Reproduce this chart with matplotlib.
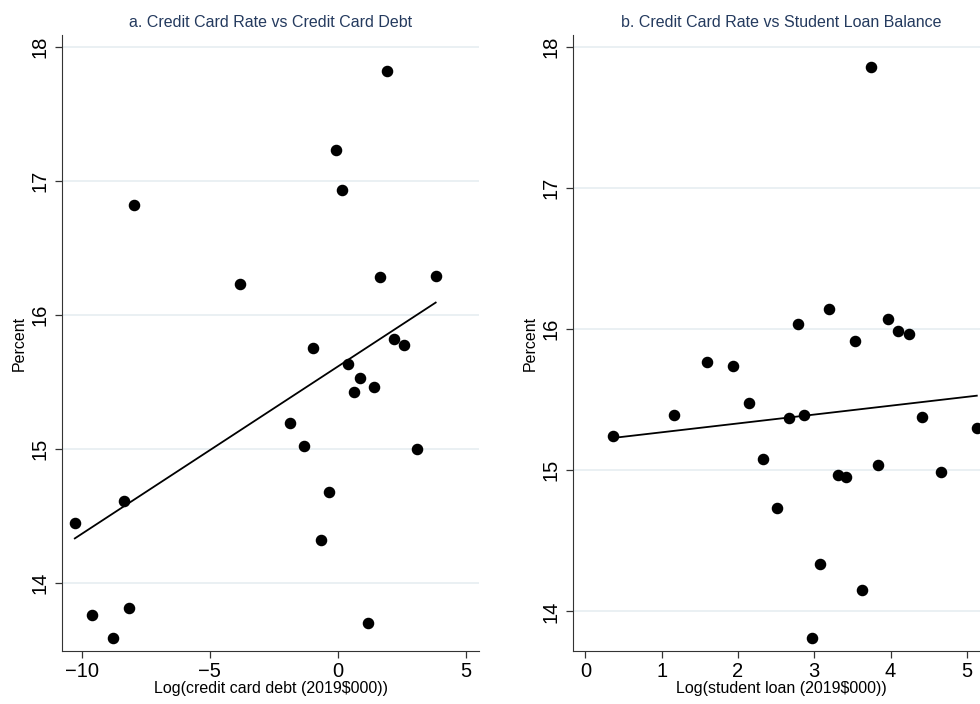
import numpy as np
import matplotlib
matplotlib.use("Agg")
import matplotlib.pyplot as plt

plt.rcParams['font.family'] = ['Liberation Sans', 'DejaVu Sans']

# panel a: log credit card debt vs credit card rate
debt_x = [1.92, -0.09, 0.16, -7.95, -3.83, 1.64, 3.81, 2.18, 2.59, -0.99,
          0.38, 0.86, 0.61, 1.40, -1.87, -1.32, 3.10, -0.37, -0.66, -8.35,
          -10.27, -9.60, -8.17, -8.79, 1.17]
debt_y = [17.82, 17.23, 16.93, 16.82, 16.23, 16.28, 16.29, 15.82, 15.77, 15.75,
          15.63, 15.53, 15.42, 15.46, 15.19, 15.02, 15.00, 14.68, 14.32, 14.61,
          14.445, 13.76, 13.81, 13.59, 13.70]
debt_fit = (0.125, 15.614)   # slope, intercept

# panel b: log student loan vs credit card rate
loan_x = [3.74, 2.78, 3.19, 3.96, 4.10, 4.24, 3.53, 1.60, 1.93, 2.15,
          1.16, 2.67, 2.87, 4.41, 5.13, 0.36, 2.33, 3.84, 4.66, 3.31,
          3.42, 2.51, 3.07, 3.63, 2.97]
loan_y = [17.86, 16.04, 16.14, 16.07, 15.99, 15.965, 15.915, 15.77, 15.74, 15.476,
          15.39, 15.37, 15.39, 15.38, 15.30, 15.24, 15.08, 15.04, 14.99, 14.966,
          14.95, 14.73, 14.34, 14.155, 13.81]
loan_fit = (0.0628, 15.207)

titles = ["a. Credit Card Rate vs Credit Card Debt",
          "b. Credit Card Rate vs Student Loan Balance"]
xlabels = ["Log(credit card debt (2019$000))", "Log(student loan (2019$000))"]

W, H = 980, 704
fig = plt.figure(figsize=(9.8, 7.04), dpi=100)

def box(l, r, t, b):
    return [l / W, 1 - b / H, (r - l) / W, (b - t) / H]

ax1 = fig.add_axes(box(62, 479, 35, 651))
ax2 = fig.add_axes(box(573, 989, 35, 651))

panels = [
    (ax1, debt_x, debt_y, debt_fit, (-10.77, 5.5), (13.49, 18.087), [-10, -5, 0, 5]),
    (ax2, loan_x, loan_y, loan_fit, (-0.163, 5.29), (13.72, 18.085), [0, 1, 2, 3, 4, 5]),
]

for i, (ax, xs, ys, fit, xl, yl, xt) in enumerate(panels):
    ax.set_axisbelow(True)
    ax.grid(axis='y', color='#e6eef1', linewidth=1.2)
    ax.plot(xs, ys, 'o', color='black', markersize=7.3, zorder=3)
    lx = np.array([min(xs), max(xs)])
    ax.plot(lx, fit[0] * lx + fit[1], color='black', linewidth=1.3, zorder=2)
    ax.set_xlim(*xl)
    ax.set_ylim(*yl)
    ax.set_xticks(xt)
    ax.set_xticklabels([str(v).replace('-', '\u2212') for v in xt])
    ax.set_yticks([14, 15, 16, 17, 18])
    ax.tick_params(axis='y', labelrotation=90, labelsize=14.5, length=5, width=0.9, color='#333333', pad=4)
    ax.tick_params(axis='x', labelsize=14.5, length=5, width=0.9, color='#333333', pad=3)
    for lab in ax.get_yticklabels():
        lab.set_va('center')
    ax.spines['top'].set_visible(False)
    ax.spines['right'].set_visible(False)
    ax.spines['left'].set_color('#333333')
    ax.spines['bottom'].set_color('#333333')
    ax.set_title(titles[i], fontsize=11.5, color='#243a5e', pad=6)
    ax.set_xlabel(xlabels[i], fontsize=11.5, labelpad=0)
    ax.set_ylabel('Percent', fontsize=11.5, labelpad=3)

fig.savefig('out.png', dpi=100)
